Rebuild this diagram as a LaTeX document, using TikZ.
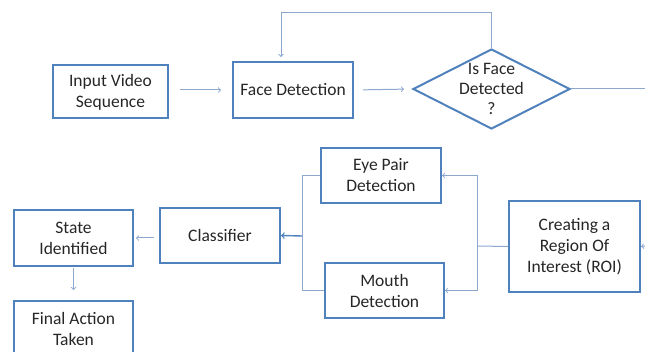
\documentclass[tikz,border=0pt]{standalone}
\usepackage{fontspec}
\setmainfont{Carlito}
\usetikzlibrary{shapes.geometric}

\definecolor{boxblue}{RGB}{79,129,189}
\definecolor{lineblue}{RGB}{140,168,206}

\begin{document}
\begin{tikzpicture}[x=1pt,y=-1pt]

\tikzset{block/.style = {shape=rectangle,draw=boxblue,line width=2pt,align=center,inner sep=0pt,text=black!85,font=\fontsize{17.5}{21}\selectfont}}
\tikzset{decision/.style = {shape=diamond,draw=boxblue,line width=2pt,inner sep=0pt,minimum width=157pt,minimum height=80pt}}
\tikzset{qtext/.style = {align=center,text=black!85,font=\fontsize{17.5}{20}\selectfont}}
\tikzset{link/.style = {draw=lineblue,line width=1pt,->}}
\tikzset{wire/.style = {draw=lineblue,line width=1pt}}

\useasboundingbox (0,0) rectangle (645,352);
\clip (0,0) rectangle (645,352);

%blocks
\node[block, minimum width=115pt, minimum height=53pt] (input) at (110.5,92) {Input Video\\Sequence};
\node[block, minimum width=120pt, minimum height=56pt] (face) at (293,90) {Face Detection};
\node[decision, label={[qtext]center:Is Face\\Detected\\?}] (isface) at (491.5,89) {};
\node[block, minimum width=120pt, minimum height=55pt] (eyepair) at (381,175.5) {Eye Pair\\Detection};
\node[block, minimum width=119pt, minimum height=55pt] (mouth) at (384.5,290.5) {Mouth\\Detection};
\node[block, minimum width=131pt, minimum height=91pt] (roi) at (574.5,246.5) {Creating a\\Region Of\\Interest (ROI)};
\node[block, minimum width=120pt, minimum height=55pt] (classifier) at (220,235.5) {Classifier};
\node[block, minimum width=119pt, minimum height=56pt] (state) at (73.5,238) {State\\Identified};
\node[block, minimum width=119pt, minimum height=55pt] (final) at (73.5,328.5) {Final Action\\Taken};

%helper points
\coordinate (loopL) at (281,13);
\coordinate (exitR) at (645,89);
\coordinate (roiin) at (645,246);
\coordinate (fork) at (477,246);
\coordinate (join) at (302,236);

%connectors
\draw [link, shorten <=11pt, shorten >=11pt] (face.west -| input.east) -- (face.west);
\draw [link, shorten <=9pt, shorten >=8pt] (face.east) -- (isface.west);
\draw [wire] (isface.east) -- (exitR);
\draw [link, shorten >=4pt] (isface.north) |- (loopL) -- (loopL |- face.north);
\draw [link] (roiin) -- (roi.east);
\draw [wire] (roi.west) -- (fork);
\draw [link] (fork) |- (eyepair.east);
\draw [link] (fork) |- (mouth.east);
\draw [wire] (eyepair.west) -| (join);
\draw [wire] (mouth.west) -| (join);
\draw [link, draw=boxblue, line width=1.4pt] (join) -- (classifier.east);
\draw [link, shorten <=5pt, shorten >=2pt] (classifier.west |- state.east) -- (state.east);
\draw [link, shorten <=1pt, shorten >=10pt] (state.south) -- (final.north);

\end{tikzpicture}
\end{document}
